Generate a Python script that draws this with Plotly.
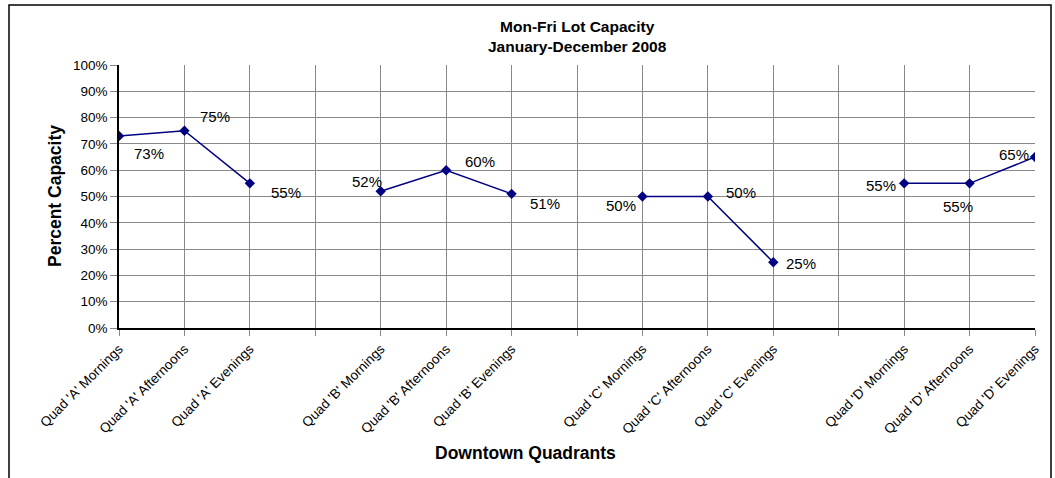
import plotly.graph_objects as go

# ---- data ----
categories = [
    "Quad 'A' Mornings", "Quad 'A' Afternoons", "Quad 'A' Evenings", " ",
    "Quad 'B' Mornings", "Quad 'B' Afternoons", "Quad 'B' Evenings", "  ",
    "Quad 'C' Mornings", "Quad 'C' Afternoons", "Quad 'C' Evenings", "   ",
    "Quad 'D' Mornings", "Quad 'D' Afternoons", "Quad 'D' Evenings",
]
capacity = [0.73, 0.75, 0.55, None,
            0.52, 0.60, 0.51, None,
            0.50, 0.50, 0.25, None,
            0.55, 0.55, 0.65]
title_lines = ["Mon-Fri Lot Capacity", "January-December 2008"]
x_title = "Downtown Quadrants"
y_title = "Percent Capacity"

# label offsets in pixels (style only)
label_dx = [30, 31, 36, 0, -14, 34, 33, 0, -21, 33, 28, 0, -23, -12, -21]
label_dy = [-17, 14, -9, 0, 10, 9, -10, 0, -9, 4, -1, 0, -2, -23, 3]

W, H = 1055, 478
L, R, T, B = 119, 20, 65, 150
pw, ph = W - L - R, H - T - B

def px(x):
    return (x - L) / pw

def py(y):
    return (H - B - y) / ph

navy = "#000080"
font_family = "Liberation Sans, Arial, sans-serif"

fig = go.Figure()
fig.add_trace(go.Scatter(
    x=categories, y=capacity, mode="lines+markers",
    line=dict(color=navy, width=1.5),
    marker=dict(symbol="diamond", size=8, color=navy),
    connectgaps=False, hoverinfo="x+y",
))

annotations = []
for c, v, dx, dy in zip(categories, capacity, label_dx, label_dy):
    if v is None:
        continue
    annotations.append(dict(
        x=c, y=v, xref="x", yref="y", text=f"{round(v * 100)}%",
        showarrow=False, xshift=dx, yshift=dy,
        font=dict(family=font_family, size=15, color="#000"),
    ))

annotations.append(dict(
    x=px(577), y=py(36), xref="paper", yref="paper",
    text="<b>" + title_lines[0] + "<br>" + title_lines[1] + "</b>",
    showarrow=False, xanchor="center", yanchor="middle",
    font=dict(family=font_family, size=15.5, color="#000"),
))
annotations.append(dict(
    x=px(525), y=py(453), xref="paper", yref="paper",
    text="<b>" + x_title + "</b>", showarrow=False,
    xanchor="center", yanchor="middle",
    font=dict(family=font_family, size=17.5, color="#000"),
))
annotations.append(dict(
    x=px(55), y=py(196), xref="paper", yref="paper",
    text="<b>" + y_title + "</b>", showarrow=False, textangle=-90,
    xanchor="center", yanchor="middle",
    font=dict(family=font_family, size=17.5, color="#000"),
))

fig.update_layout(
    width=W, height=H,
    margin=dict(l=L, r=R, t=T, b=B, autoexpand=False),
    paper_bgcolor="white", plot_bgcolor="white",
    showlegend=False,
    annotations=annotations,
    shapes=[dict(type="rect", xref="paper", yref="paper",
                 x0=px(9), x1=px(1051), y0=py(520), y1=py(5),
                 line=dict(color="#000", width=1.5), layer="below")],
    font=dict(family=font_family, color="#000"),
)
fig.update_xaxes(
    type="category", categoryorder="array", categoryarray=categories,
    range=[0, len(categories) - 1],
    tickmode="array", tickvals=categories,
    ticktext=[c if c.strip() else "" for c in categories],
    tickangle=-45, tickfont=dict(size=13.5, color="#000"),
    showgrid=True, gridcolor="#888888", gridwidth=1,
    showline=True, linecolor="#000", linewidth=1.5,
    ticks="outside", ticklen=6, tickcolor="#888888",
    zeroline=False, automargin=False,
)
fig.update_yaxes(
    range=[0, 1], dtick=0.1, tickformat=".0%",
    tickfont=dict(size=13.5, color="#000"),
    showgrid=True, gridcolor="#888888", gridwidth=1,
    showline=True, linecolor="#000", linewidth=1.5,
    ticks="outside", ticklen=7, tickcolor="#888888",
    zeroline=False, automargin=False,
)

fig.write_html(
    "out.html",
    config={"displayModeBar": False},
    post_script="document.body.style.margin='0';document.body.style.overflow='hidden';",
)
